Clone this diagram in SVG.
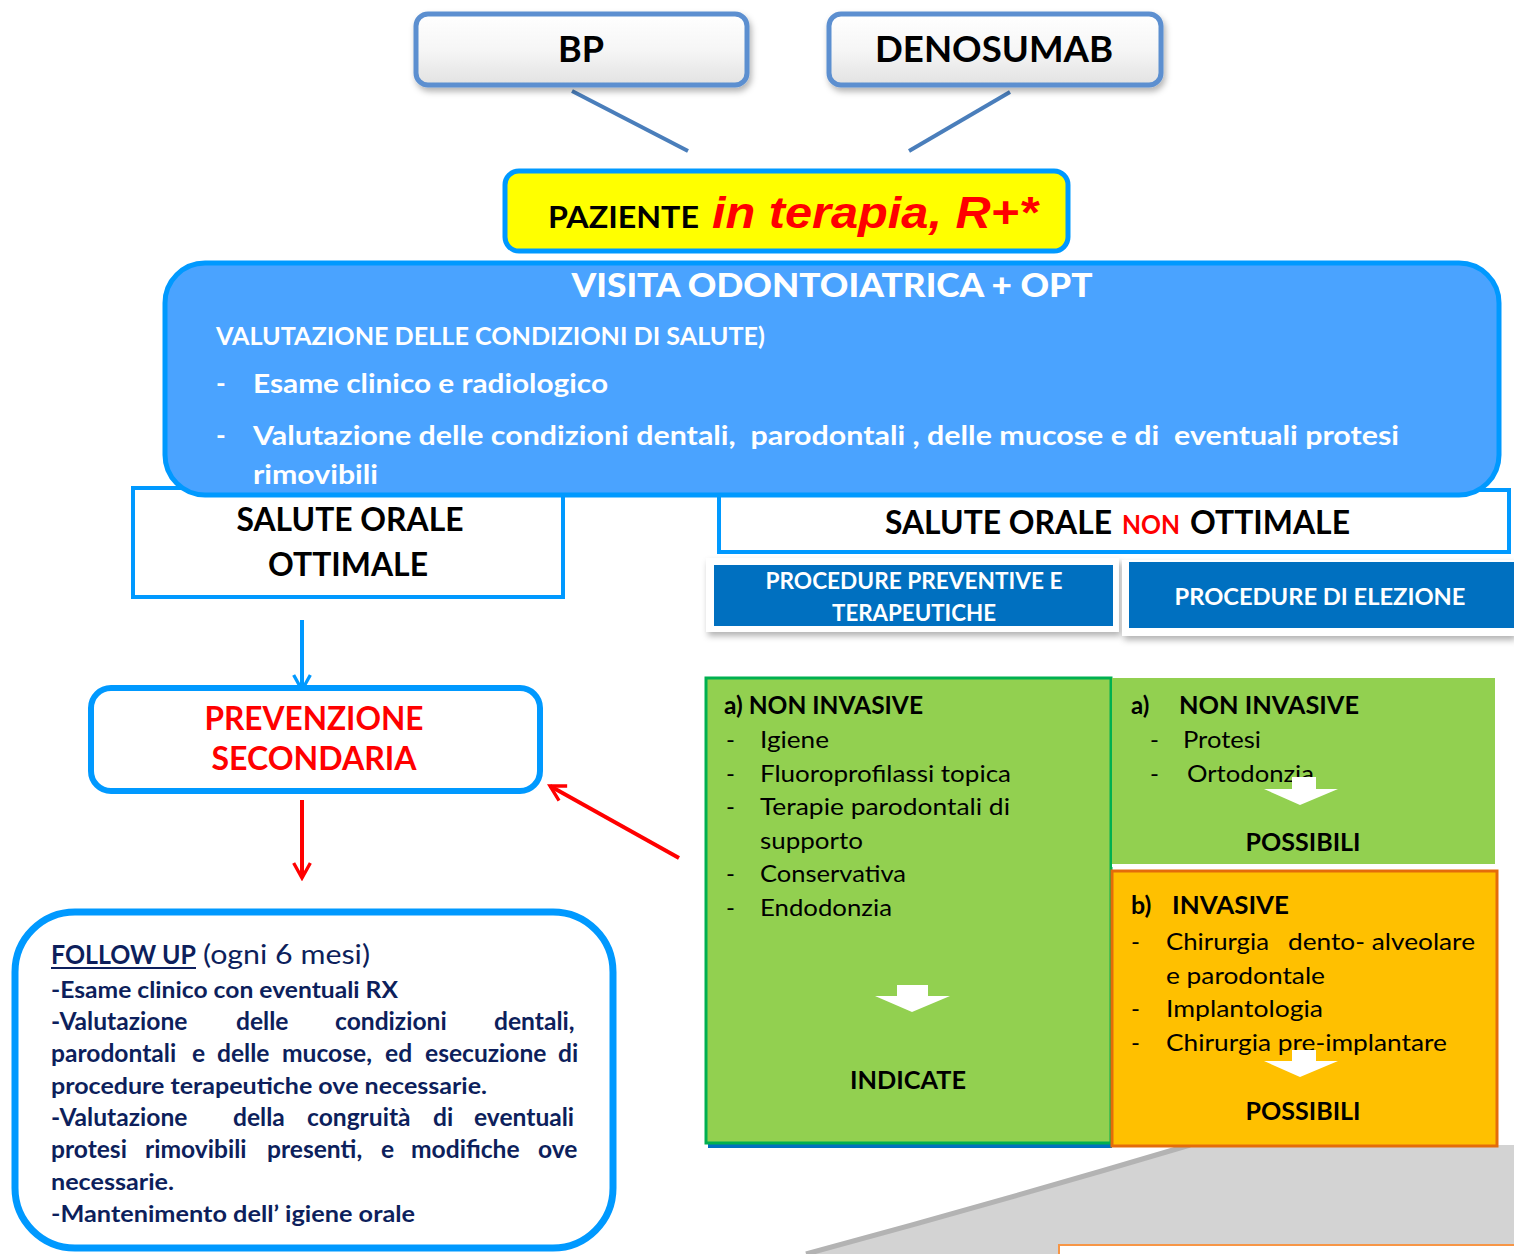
<svg xmlns="http://www.w3.org/2000/svg" width="1514" height="1254" viewBox="0 0 1514 1254">
<defs>
<linearGradient id="btn" x1="0" y1="0" x2="0" y2="1">
<stop offset="0" stop-color="#ffffff"/><stop offset="0.5" stop-color="#f6f6f6"/><stop offset="1" stop-color="#e2e2e2"/>
</linearGradient>
<filter id="sh" x="-10%" y="-10%" width="130%" height="140%"><feDropShadow dx="2" dy="4" stdDeviation="3" flood-color="#000" flood-opacity="0.3"/></filter>
<marker id="mBlue" viewBox="0 0 12 12" refX="10" refY="6" markerWidth="5" markerHeight="5" orient="auto" markerUnits="strokeWidth"><path d="M1,1 L10,6 L1,11" fill="none" stroke="#0099ff" stroke-width="2"/></marker>
<marker id="mRed" viewBox="0 0 12 12" refX="10" refY="6" markerWidth="5" markerHeight="5" orient="auto" markerUnits="strokeWidth"><path d="M1,1 L10,6 L1,11" fill="none" stroke="#ff0000" stroke-width="2"/></marker>
</defs>
<style>
.t{font-family:Lato,"Liberation Sans",sans-serif}
.b{font-weight:bold}
.w{fill:#ffffff}
.k{fill:#000000}
.nv{fill:#0d1f5c;font-weight:bold;font-size:23px}
.j{font-size:24.6px}
.item{font-size:24px;fill:#000}
.warr{fill:#ffffff}
</style>
<rect width="1514" height="1254" fill="#ffffff"/>

<!-- background grey swoosh -->
<g id="swoosh">
<path d="M806,1254 Q995,1203 1190,1145 L1514,1145 L1514,1254 Z" fill="#d3d3d3"/>
<path d="M806,1254 Q995,1203 1190,1145" fill="none" stroke="#b3b3b3" stroke-width="5"/>
<rect x="1059" y="1245" width="460" height="20" fill="#ffffff" stroke="#f79646" stroke-width="2"/>
</g>

<!-- connectors -->
<g id="connectors">
<line x1="572" y1="91" x2="688" y2="151" stroke="#4a7ebb" stroke-width="4"/>
<line x1="1010" y1="92" x2="909" y2="151" stroke="#4a7ebb" stroke-width="4"/>
<line x1="302" y1="620" x2="302" y2="690" stroke="#0099ff" stroke-width="4" marker-end="url(#mBlue)"/>
<line x1="302" y1="800" x2="302" y2="878" stroke="#ff0000" stroke-width="4" marker-end="url(#mRed)"/>
<line x1="679" y1="858" x2="550" y2="786" stroke="#ff0000" stroke-width="4" marker-end="url(#mRed)"/>
</g>

<g id="bp">
<rect x="416" y="14" width="331" height="71" rx="12" fill="url(#btn)" stroke="#5b8fd0" stroke-width="5" filter="url(#sh)"/>
<text x="581" y="62" text-anchor="middle" class="t b k" font-size="36">BP</text>
</g>
<g id="denosumab">
<rect x="829" y="14" width="332" height="71" rx="12" fill="url(#btn)" stroke="#5b8fd0" stroke-width="5" filter="url(#sh)"/>
<text x="994" y="62" text-anchor="middle" class="t b k" font-size="36" textLength="238" lengthAdjust="spacingAndGlyphs">DENOSUMAB</text>
</g>

<g id="paziente">
<rect x="505" y="171" width="563" height="80" rx="14" fill="#ffff00" stroke="#0099ff" stroke-width="5"/>
<text x="548" y="228" class="t b k" font-size="30" textLength="151" lengthAdjust="spacingAndGlyphs">PAZIENTE</text>
<text x="712" y="228" font-family="'Liberation Sans',Arial,sans-serif" font-weight="bold" font-style="italic" font-size="44" fill="#ff0000" textLength="326" lengthAdjust="spacingAndGlyphs">in terapia, R+*</text>
</g>

<g id="salute-ottimale">
<rect x="133" y="488" width="430" height="109" fill="#ffffff" stroke="#0099ff" stroke-width="4"/>
<text x="350" y="531" text-anchor="middle" class="t b k" font-size="32" textLength="227" lengthAdjust="spacingAndGlyphs">SALUTE ORALE</text>
<text x="348" y="576" text-anchor="middle" class="t b k" font-size="32" textLength="160" lengthAdjust="spacingAndGlyphs">OTTIMALE</text>
</g>

<g id="salute-non-ottimale">
<rect x="719" y="490" width="790" height="62" fill="#ffffff" stroke="#0099ff" stroke-width="4"/>
<text x="885" y="534" class="t b k" font-size="32" textLength="227" lengthAdjust="spacingAndGlyphs">SALUTE ORALE</text>
<text x="1122" y="534" class="t b" font-size="26" fill="#ff0000" textLength="58" lengthAdjust="spacingAndGlyphs">NON</text>
<text x="1190" y="534" class="t b k" font-size="32" textLength="160" lengthAdjust="spacingAndGlyphs">OTTIMALE</text>
</g>

<g id="visita">
<rect x="165" y="263" width="1334" height="232" rx="40" fill="#4aa3ff" stroke="#0099ff" stroke-width="5"/>
<text x="832" y="297" text-anchor="middle" class="t w" font-weight="900" font-size="33" textLength="521" lengthAdjust="spacingAndGlyphs">VISITA ODONTOIATRICA + OPT</text>
<text x="216" y="345" class="t b w" font-size="24" textLength="549" lengthAdjust="spacingAndGlyphs">VALUTAZIONE DELLE CONDIZIONI DI SALUTE)</text>
<text x="216" y="393" class="t b w" font-size="26">-</text>
<text x="253" y="393" class="t b w" font-size="27" textLength="355" lengthAdjust="spacingAndGlyphs">Esame clinico e radiologico</text>
<text x="216" y="445" class="t b w" font-size="26">-</text>
<text x="253" y="445" class="t b w" font-size="27" textLength="1146" lengthAdjust="spacingAndGlyphs" xml:space="preserve">Valutazione delle condizioni dentali,  parodontali , delle mucose e di  eventuali protesi</text>
<text x="253" y="484" class="t b w" font-size="27" textLength="125" lengthAdjust="spacingAndGlyphs">rimovibili</text>
</g>

<g id="proc-preventive">
<rect x="706" y="558" width="413" height="74" fill="#ffffff" filter="url(#sh)"/>
<rect x="714" y="565" width="399" height="61" fill="#0070c0"/>
<text x="914" y="589" text-anchor="middle" class="t b w" font-size="22" textLength="297" lengthAdjust="spacingAndGlyphs">PROCEDURE PREVENTIVE E</text>
<text x="914" y="621" text-anchor="middle" class="t b w" font-size="22" textLength="164" lengthAdjust="spacingAndGlyphs">TERAPEUTICHE</text>
</g>
<g id="proc-elezione">
<rect x="1122" y="560" width="392" height="76" fill="#ffffff" filter="url(#sh)"/>
<rect x="1129" y="562" width="385" height="66" fill="#0070c0"/>
<text x="1320" y="605" text-anchor="middle" class="t b w" font-size="23" textLength="291" lengthAdjust="spacingAndGlyphs">PROCEDURE DI ELEZIONE</text>
</g>

<g id="prevenzione">
<rect x="91" y="688" width="449" height="103" rx="20" fill="#ffffff" stroke="#0099ff" stroke-width="6"/>
<text x="314" y="730" text-anchor="middle" class="t b" font-size="32" fill="#ff0000" textLength="219" lengthAdjust="spacingAndGlyphs">PREVENZIONE</text>
<text x="314" y="770" text-anchor="middle" class="t b" font-size="32" fill="#ff0000" textLength="205" lengthAdjust="spacingAndGlyphs">SECONDARIA</text>
</g>

<g id="non-invasive-indicate">
<line x1="708" y1="1146" x2="1112" y2="1146" stroke="#0070c0" stroke-width="4"/>
<rect x="706" y="678" width="405" height="465" fill="#92d050" stroke="#00b050" stroke-width="3"/>
<text x="724" y="714" class="t b k" font-size="24" textLength="199" lengthAdjust="spacingAndGlyphs">a) NON INVASIVE</text>
<g class="t item">
<text x="726" y="748">-</text><text x="760" y="748" textLength="69" lengthAdjust="spacingAndGlyphs">Igiene</text>
<text x="726" y="782">-</text><text x="760" y="782" textLength="251" lengthAdjust="spacingAndGlyphs">Fluoroprofilassi topica</text>
<text x="726" y="815">-</text><text x="760" y="815" textLength="250" lengthAdjust="spacingAndGlyphs">Terapie parodontali di</text>
<text x="760" y="849" textLength="103" lengthAdjust="spacingAndGlyphs">supporto</text>
<text x="726" y="882">-</text><text x="760" y="882" textLength="146" lengthAdjust="spacingAndGlyphs">Conservativa</text>
<text x="726" y="916">-</text><text x="760" y="916" textLength="132" lengthAdjust="spacingAndGlyphs">Endodonzia</text>
</g>
<path d="M897,985 H928 V996 H950 L912,1012 L875,996 H897 Z" class="warr"/>
<text x="908" y="1089" text-anchor="middle" class="t b k" font-size="24" textLength="116" lengthAdjust="spacingAndGlyphs">INDICATE</text>
</g>

<g id="non-invasive-possibili">
<rect x="1112" y="678" width="386" height="189" fill="#ffffff"/>
<rect x="1112" y="678" width="383" height="186" fill="#92d050"/>
<text x="1131" y="714" class="t b k" font-size="24">a)</text>
<text x="1179" y="714" class="t b k" font-size="24" textLength="180" lengthAdjust="spacingAndGlyphs">NON INVASIVE</text>
<g class="t item">
<text x="1150" y="748">-</text><text x="1183" y="748" textLength="78" lengthAdjust="spacingAndGlyphs">Protesi</text>
<text x="1150" y="782">-</text><text x="1187" y="782" textLength="127" lengthAdjust="spacingAndGlyphs">Ortodonzia</text>
</g>
<path d="M1292,777 H1316 V789 H1338 L1300,805 L1264,789 H1292 Z" class="warr"/>
<text x="1303" y="851" text-anchor="middle" class="t b k" font-size="24" textLength="115" lengthAdjust="spacingAndGlyphs">POSSIBILI</text>
</g>

<g id="invasive-possibili">
<rect x="1112" y="871" width="385" height="275" fill="#ffc000" stroke="#e46c0a" stroke-width="3"/>
<text x="1131" y="914" class="t b k" font-size="25">b)</text>
<text x="1172" y="914" class="t b k" font-size="24" textLength="117" lengthAdjust="spacingAndGlyphs">INVASIVE</text>
<g class="t item">
<text x="1131" y="950">-</text><text x="1166" y="950" textLength="103" lengthAdjust="spacingAndGlyphs">Chirurgia</text><text x="1288" y="950" textLength="187" lengthAdjust="spacingAndGlyphs">dento- alveolare</text>
<text x="1166" y="984" textLength="159" lengthAdjust="spacingAndGlyphs">e parodontale</text>
<text x="1131" y="1017">-</text><text x="1166" y="1017" textLength="157" lengthAdjust="spacingAndGlyphs">Implantologia</text>
<text x="1131" y="1051">-</text><text x="1166" y="1051" textLength="281" lengthAdjust="spacingAndGlyphs">Chirurgia pre-implantare</text>
</g>
<path d="M1292,1050 H1316 V1061 H1338 L1300,1077 L1264,1061 H1292 Z" class="warr"/>
<text x="1303" y="1120" text-anchor="middle" class="t b k" font-size="24" textLength="115" lengthAdjust="spacingAndGlyphs">POSSIBILI</text>
</g>

<g id="follow-up">
<rect x="15" y="912" width="598" height="336" rx="60" fill="#ffffff" stroke="#0099ff" stroke-width="7"/>
<text x="51" y="964" class="t b" font-size="26" fill="#0d1f5c" textLength="145" lengthAdjust="spacingAndGlyphs">FOLLOW UP</text>
<line x1="51" y1="968" x2="196" y2="968" stroke="#0d1f5c" stroke-width="2"/>
<text x="203" y="964" class="t" font-size="26" fill="#0d1f5c" textLength="167" lengthAdjust="spacingAndGlyphs">(ogni 6 mesi)</text>
<g class="t nv">
<text x="51" y="998" textLength="347" lengthAdjust="spacingAndGlyphs">-Esame clinico con eventuali RX</text>
<text y="1030" class="j"><tspan x="51">-Valutazione</tspan><tspan x="236">delle</tspan><tspan x="335">condizioni</tspan><tspan x="494">dentali,</tspan></text>
<text y="1062" class="j"><tspan x="51">parodontali</tspan><tspan x="192">e</tspan><tspan x="217">delle</tspan><tspan x="282">mucose,</tspan><tspan x="385">ed</tspan><tspan x="425">esecuzione</tspan><tspan x="558">di</tspan></text>
<text x="51" y="1094" textLength="436" lengthAdjust="spacingAndGlyphs">procedure terapeutiche ove necessarie.</text>
<text y="1126" class="j"><tspan x="51">-Valutazione</tspan><tspan x="233">della</tspan><tspan x="307">congruità</tspan><tspan x="433">di</tspan><tspan x="474">eventuali</tspan></text>
<text y="1158" class="j"><tspan x="51">protesi</tspan><tspan x="145">rimovibili</tspan><tspan x="267">presenti,</tspan><tspan x="381">e</tspan><tspan x="411">modifiche</tspan><tspan x="538">ove</tspan></text>
<text x="51" y="1190" textLength="123" lengthAdjust="spacingAndGlyphs">necessarie.</text>
<text x="51" y="1222" textLength="364" lengthAdjust="spacingAndGlyphs">-Mantenimento dell’ igiene orale</text>
</g>
</g>
</svg>
